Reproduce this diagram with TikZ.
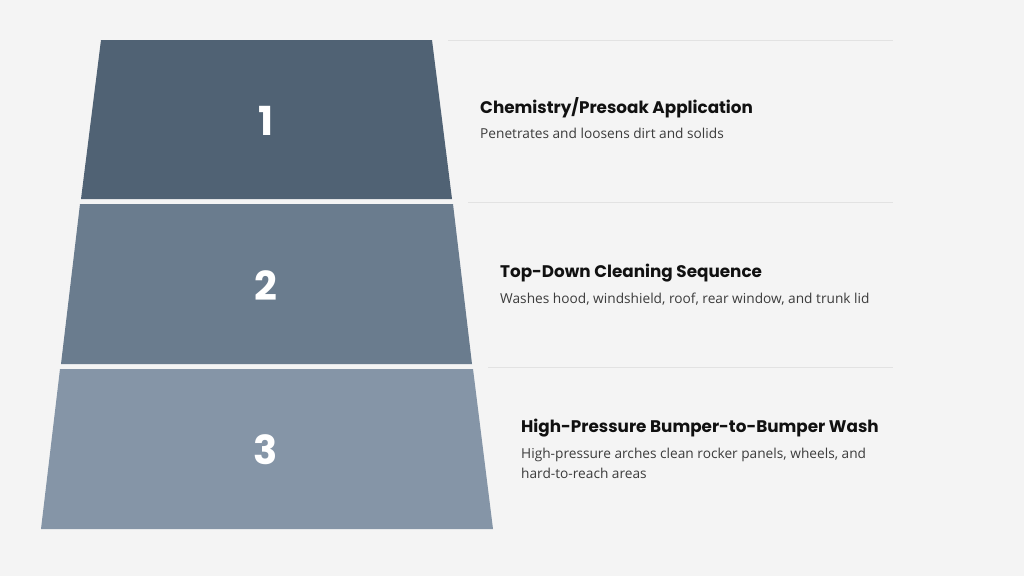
\documentclass[tikz,border=0pt]{standalone}
\usepackage{fontspec}
\setmainfont{Open Sans}
\newfontfamily\titlefont{Poppins}[FontFace={b}{n}{Poppins SemiBold}]
\newfontfamily\numfont{Poppins}
\newfontfamily\descfont{Open Sans}
\definecolor{bg}{HTML}{F4F4F4}
\definecolor{lvA}{HTML}{506274}
\definecolor{lvB}{HTML}{6A7C8E}
\definecolor{lvC}{HTML}{8595A7}
\definecolor{rule}{HTML}{E2E2E2}
\definecolor{titlec}{HTML}{111111}
\definecolor{descc}{HTML}{3C3C3C}
\tikzset{
  band/.style={draw=none},
  num/.style={text=white, font=\numfont\bfseries\fontsize{40}{40}\selectfont, inner sep=0pt},
  ttl/.style={anchor=base west, text=titlec, font=\titlefont\bfseries\fontsize{16.8}{20}\selectfont, inner sep=0pt},
  dsc/.style={anchor=base west, text=descc, font=\descfont\fontsize{13.7}{20}\selectfont, inner sep=0pt, align=left},
  sep/.style={draw=rule, line width=0.8pt}
}
\begin{document}
\begin{tikzpicture}[x=1pt,y=-1pt]
\fill[bg] (0,0) rectangle (1024,576);
\useasboundingbox (0,0) rectangle (1024,576);
% bands
\fill[lvA,band] (101,40) -- (432,40) -- (452,199) -- (81,199) -- cycle;
\fill[lvB,band] (80,204) -- (453,204) -- (472,364) -- (61,364) -- cycle;
\fill[lvC,band] (60,369) -- (473,369) -- (493,529) -- (41,529) -- cycle;
% numbers
\node[num] (n1) at (266,121) {1};
\node[num] (n2) at (266,286) {2};
\node[num] (n3) at (266,450) {3};
% separator lines
\coordinate (s1a) at (448,40.5); \coordinate (s1b) at (893,40.5);
\coordinate (s2a) at (468,202); \coordinate (s2b) at (893,202);
\coordinate (s3a) at (488,367); \coordinate (s3b) at (893,367);
\draw[sep] (s1a) -- (s1b);
\draw[sep] (s2a) -- (s2b);
\draw[sep] (s3a) -- (s3b);
% texts
\node[ttl] (t1) at (480,113) {Chemistry/Presoak Application};
\node[dsc] (d1) at (480,138) {Penetrates and loosens dirt and solids};
\node[ttl] (t2) at (500,277) {Top-Down Cleaning Sequence};
\node[dsc] (d2) at (500,303) {Washes hood, windshield, roof, rear window, and trunk lid};
\node[ttl] (t3) at (521,432) {High-Pressure Bumper-to-Bumper Wash};
\node[dsc] (d3) at (521,458) {High-pressure arches clean rocker panels, wheels, and};
\node[dsc] (d3b) at (521,478) {hard-to-reach areas};
\end{tikzpicture}
\end{document}
